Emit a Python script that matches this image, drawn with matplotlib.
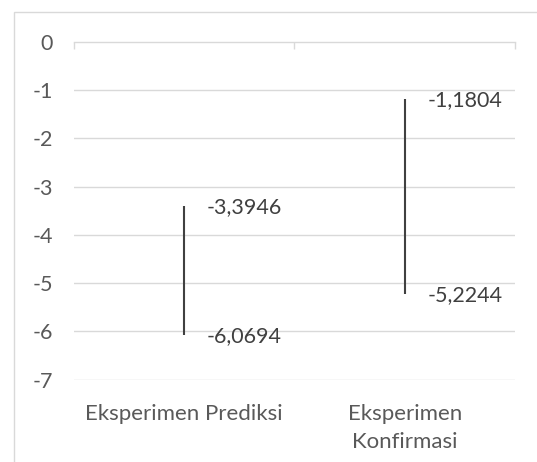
import matplotlib
matplotlib.use("Agg")
import matplotlib.pyplot as plt
from matplotlib.patches import Rectangle

plt.rcParams.update({"font.family": ["Lato", "DejaVu Sans"]})

CATEGORIES = ["Eksperimen Prediksi", "Eksperimen\nKonfirmasi"]
HIGH = [-3.3946, -1.1804]
LOW = [-6.0694, -5.2244]
YTICKS = [0, -1, -2, -3, -4, -5, -6, -7]

GRID = "#d9d9d9"
TXT = "#595959"
LINE = "#404040"
FS = 15.5


def fmt(v):
    return f"{v:.4f}".replace(".", ",")


fig = plt.figure(figsize=(5.37, 4.62), dpi=100)
# chart outer border (cropped in the reference)
fig.patches.append(Rectangle((14 / 537, -0.1), 1.2, 1 - 12 / 462 + 0.1,
                             transform=fig.transFigure, fill=False,
                             edgecolor=GRID, lw=1.0))

ax = fig.add_axes([73.6 / 537, 82.5 / 462, (515 - 73.6) / 537,
                   (379.5 - 42) / 462])
ax.set_xlim(0, len(CATEGORIES))
ax.set_ylim(-7, 0)

for y in YTICKS[1:]:
    ax.axhline(y, color=GRID, lw=1.0, zorder=1)

xs = [i + 0.5 for i in range(len(CATEGORIES))]
for x, hi, lo in zip(xs, HIGH, LOW):
    ax.vlines(x, lo, hi, color=LINE, lw=1.5, zorder=3)
    for v in (hi, lo):
        ax.annotate(fmt(v), (x, v), xytext=(16.5, -1),
                    textcoords="offset points", ha="left", va="center",
                    fontsize=FS, color=LINE)

for s in ("left", "right", "bottom"):
    ax.spines[s].set_visible(False)
ax.spines["top"].set_color(GRID)
ax.spines["top"].set_linewidth(1.0)

ax.set_yticks(YTICKS)
ax.set_yticklabels([str(t) for t in YTICKS])
ax.tick_params(axis="y", length=0, pad=15, labelsize=FS, labelcolor=TXT)

ax.set_xticks(range(len(CATEGORIES) + 1))
ax.set_xticks(xs, minor=True)
ax.set_xticklabels(CATEGORIES, minor=True)
ax.tick_params(axis="x", which="major", top=True, bottom=False,
               labelbottom=False, labeltop=False, direction="in",
               length=5, width=1.0, color=GRID)
ax.tick_params(axis="x", which="minor", top=False, bottom=True, length=0,
               labelbottom=True, pad=18, labelsize=16, labelcolor=TXT)
for lab in ax.get_xticklabels(minor=True):
    lab.set_linespacing(1.5)

fig.savefig("out.png", dpi=100)
